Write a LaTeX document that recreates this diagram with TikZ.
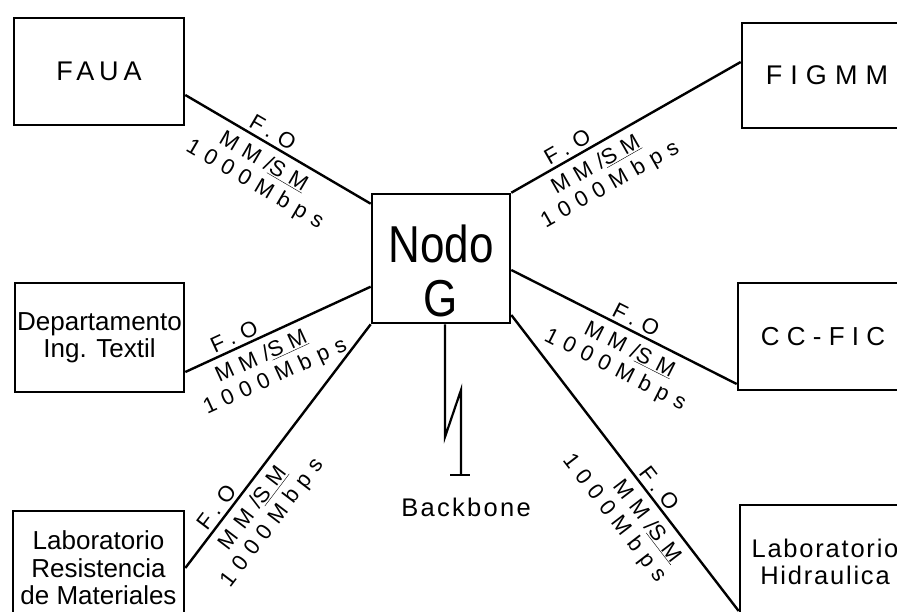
\documentclass[tikz,border=0pt]{standalone}
\usepackage{fontspec}
\usepackage{graphicx}
\setmainfont{Liberation Sans}
\newfontfamily\lblfont[LetterSpace=34]{Liberation Sans}
\newfontfamily\wideA[LetterSpace=18]{Liberation Sans}
\newfontfamily\wideB[LetterSpace=30]{Liberation Sans}
\newfontfamily\wideC[LetterSpace=28]{Liberation Sans}
\newfontfamily\wideD[LetterSpace=7]{Liberation Sans}
\newfontfamily\wideE[LetterSpace=9]{Liberation Sans}
\begin{document}
\begin{tikzpicture}[x=1pt,y=-1pt,
  box/.style={draw, line width=2.6pt, inner sep=0pt, align=center},
  link/.style={line width=2.4pt},
  lbl/.style={font=\lblfont\fontsize{22}{24}\selectfont, inner sep=0pt, sloped},
  boxtxt/.style={font=\fontsize{26}{27.5}\selectfont}]
\useasboundingbox[fill=white] (0,0) rectangle (897,611);

% boxes
\node[box, minimum width=170pt, minimum height=107pt, font=\wideA\fontsize{27}{28}\selectfont] (faua) at (99,71.5) {FAUA};
\node[box, minimum width=170pt, minimum height=105pt, font=\wideB\fontsize{27}{28}\selectfont] (figmm) at (827,75.5) {FIGMM};
\node[box, minimum width=138pt, minimum height=129pt] (nodo) at (441,258.5) {};
\node[font=\fontsize{44}{50}\selectfont, anchor=base, inner sep=0pt] (nodotxt) at (441,262) {\scalebox{1}[1.18]{Nodo}};
\node[font=\fontsize{44}{50}\selectfont, anchor=base, inner sep=0pt] (gtxt) at (441,316) {\scalebox{1}[1.18]{G}};
\node[box, boxtxt, minimum width=169pt, minimum height=109pt] (textil) at (99.5,337.5) {Departamento\\Ing. Textil};
\node[box, minimum width=170pt, minimum height=107pt, font=\wideC\fontsize{26}{28}\selectfont] (ccfic) at (823,336.5) {CC-FIC};
\node[box, boxtxt, minimum width=171pt, minimum height=114pt] (resist) at (98.5,568) {Laboratorio\\Resistencia\\de Materiales};
\node[box, minimum width=170pt, minimum height=114pt, font=\wideD\fontsize{25.5}{27.5}\selectfont] (hidra) at (825,562) {Laboratorio\\Hidraulica};

% links
\draw[link] ([yshift=-23.5pt]faua.east) -- ([yshift=-11pt]nodo.north west)
  node[lbl, pos=0.44, above=3pt] (l1a) {F.O}
  node[lbl, pos=0.47, below=7pt] (l1b) {MM/\underline{SM}}
  node[lbl, pos=0.49, below=31pt] (l1c) {1000Mbps};
\draw[link] (nodo.north east) -- ([yshift=13.5pt]figmm.west)
  node[lbl, pos=0.27, above=3pt] (l2a) {F.O}
  node[lbl, pos=0.33, below=7pt] (l2b) {MM/\underline{SM}}
  node[lbl, pos=0.34, below=31pt] (l2c) {1000Mbps};
\draw[link] ([yshift=-34.5pt]textil.east) -- ([yshift=-94pt]nodo.north west)
  node[lbl, pos=0.29, above=3pt] (l3a) {F.O}
  node[lbl, pos=0.37, below=7pt] (l3b) {MM/\underline{SM}}
  node[lbl, pos=0.39, below=31pt] (l3c) {1000Mbps};
\draw[link] (resist.east) -- (nodo.south west)
  node[lbl, pos=0.22, above=3pt] (l4a) {F.O}
  node[lbl, pos=0.29, below=7pt] (l4b) {MM/\underline{SM}}
  node[lbl, pos=0.29, below=31pt] (l4c) {1000Mbps};
\draw[link] ([yshift=-11.5pt]nodo.east) -- ([yshift=-47.5pt]ccfic.west)
  node[lbl, pos=0.53, above=3pt] (l5a) {F.O}
  node[lbl, pos=0.56, below=7pt] (l5b) {MM/\underline{SM}}
  node[lbl, pos=0.545, below=31pt] (l5c) {1000Mbps};
\draw[link] ([yshift=-56.5pt]nodo.east) -- ([yshift=-49pt]hidra.west)
  node[lbl, pos=0.61, above=3pt] (l6a) {F.O}
  node[lbl, pos=0.66, below=7pt] (l6b) {MM/\underline{SM}}
  node[lbl, pos=0.60, below=31pt] (l6c) {1000Mbps};

% backbone
\coordinate (b0) at ([xshift=4pt]nodo.south);
\coordinate (b1) at (445,437);
\coordinate (b2) at (461,390);
\coordinate (b3) at (461,475);
\coordinate (t1) at (450,475);
\coordinate (t2) at (470,475);
\draw[line width=2.2pt, line join=miter] (b0) -- (b1) -- (b2) -- (b3);
\draw[line width=2.2pt] (t1) -- (t2);
\node[font=\wideE\fontsize{25.5}{27}\selectfont, anchor=base, inner sep=0pt] (bb) at (466,516) {Backbone};
\end{tikzpicture}
\end{document}
